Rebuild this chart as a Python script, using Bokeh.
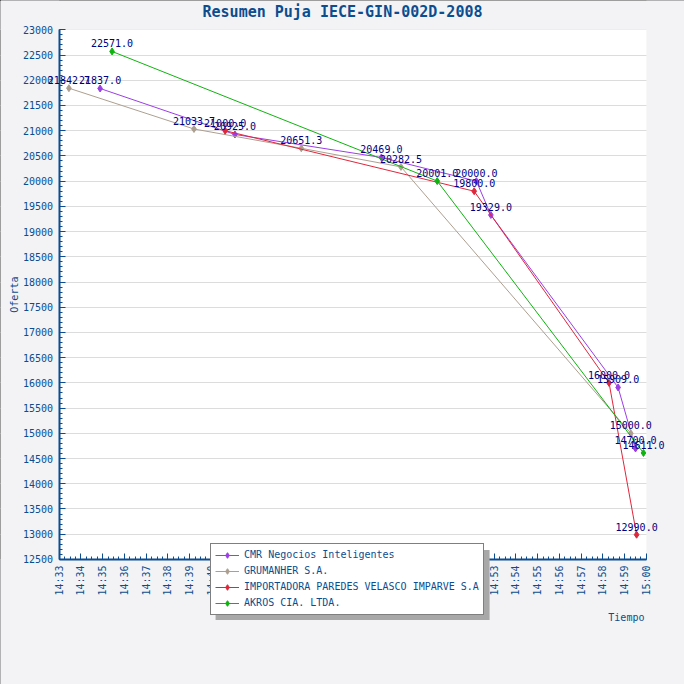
import math
from datetime import datetime
from bokeh.plotting import figure
from bokeh.models import (ColumnDataSource, FixedTicker, DatetimeTickFormatter, Legend,
                          LegendItem, Label, LabelSet, BoxAnnotation, Range1d)
from bokeh.core.properties import value
from bokeh.embed import file_html
from bokeh.resources import INLINE

# ---------------- data ----------------
title_text = "Resumen Puja IECE-GIN-002D-2008"
x_title = "Tiempo"
y_title = "Oferta"
day = "2008-01-01"

series_names = ["CMR Negocios Inteligentes", "GRUMANHER S.A.",
                "IMPORTADORA PAREDES VELASCO IMPARVE S.A", "AKROS CIA. LTDA."]

cmr_times = ["14:34:53", "14:41:05", "14:47:49", "14:52:11", "14:52:51", "14:58:42", "14:59:30"]
cmr_values = [21837.0, 20925.0, 20469.0, 20000.0, 19329.0, 15909.0, 14700.0]

gru_times = ["14:33:27", "14:39:12", "14:44:08", "14:48:43", "14:59:17"]
gru_values = [21842.7, 21033.7, 20651.3, 20282.5, 15000.0]

imp_times = ["14:40:38", "14:52:05", "14:58:17", "14:59:33"]
imp_values = [21000.0, 19800.0, 16000.0, 12990.0]

akr_times = ["14:35:26", "14:50:23", "14:59:52"]
akr_values = [22571.0, 20001.0, 14611.0]

tick_labels = ["14:%02d" % m for m in range(33, 60)] + ["15:00"]
y_min, y_max = 12500, 23000
y_ticks = list(range(y_min, y_max + 1, 500))
y_minor = list(range(y_min, y_max + 1, 100))

series_colors = ["#9b3ee6", "#ad9f90", "#e0263a", "#0fb30f"]

# ---------------- helpers ----------------
EPOCH = datetime(1970, 1, 1)


def ms(t):
    fmt = "%Y-%m-%d %H:%M:%S" if t.count(":") == 2 else "%Y-%m-%d %H:%M"
    return (datetime.strptime(day + " " + t, fmt) - EPOCH).total_seconds() * 1000.0


x_ticks = [ms(t) for t in tick_labels]
x_min, x_max = x_ticks[0], x_ticks[-1]
x_minor = [x_min + i * 15000.0 for i in range(0, 27 * 4 + 1)]

BLUE = "#0b4d8f"
NAVY = "#000080"
BG = "#f3f3f5"
FONT = "DejaVu Sans Mono"

W, H = 684, 684
S = W / 700.0
# plot band in canvas pixels (the frame covers the whole canvas)
BAND_L, BAND_R, BAND_T, BAND_B = 60 * S, 661 * S, 30 * S, 572 * S
x_ppu = (BAND_R - BAND_L) / (x_max - x_min)
y_ppu = (BAND_B - BAND_T) / (y_max - y_min)
x_start = x_min - BAND_L / x_ppu
x_end = x_max + (W - BAND_R) / x_ppu
y_end = y_max + BAND_T / y_ppu
y_start = y_min - (H - BAND_B) / y_ppu

p = figure(width=W, height=H, x_axis_type="datetime", output_backend="svg",
           toolbar_location=None,
           x_range=Range1d(x_start, x_end), y_range=Range1d(y_start, y_end),
           min_border_left=0, min_border_right=0, min_border_top=0, min_border_bottom=0,
           min_border=0,
           background_fill_color="white", border_fill_color=BG, outline_line_color=None)
p.title.visible = False
p.styles = {"outline": "2px solid black", "outline-offset": "-2px"}

p.xgrid.visible = False
p.ygrid.grid_line_color = "#dcdcdc"
p.ygrid.grid_line_width = 1

# grey surroundings of the white plot band (drawn over the grid's overhang)
for kw in (dict(right=x_min), dict(left=x_max), dict(bottom=y_max), dict(top=y_min)):
    p.add_layout(BoxAnnotation(fill_color=BG, fill_alpha=1, line_color=None,
                               level="underlay", **kw))

p.xaxis.ticker = FixedTicker(ticks=x_ticks, minor_ticks=x_minor)
p.xaxis.formatter = DatetimeTickFormatter(seconds="%H:%M", minsec="%H:%M", minutes="%H:%M",
                                          hourmin="%H:%M", hours="%H:%M", days="%H:%M")
p.xaxis.major_label_orientation = math.pi / 2
p.xaxis.fixed_location = y_min
p.xaxis.bounds = (x_min, x_max)
p.yaxis.ticker = FixedTicker(ticks=y_ticks, minor_ticks=y_minor)
p.yaxis.fixed_location = x_min
p.yaxis.bounds = (y_min, y_max)

for ax in (p.xaxis[0], p.yaxis[0]):
    ax.axis_line_color = BLUE
    ax.axis_line_width = 2
    ax.major_tick_line_color = BLUE
    ax.minor_tick_line_color = BLUE
    ax.major_tick_line_width = 1
    ax.minor_tick_line_width = 1
    ax.major_tick_in = 6
    ax.major_tick_out = 0
    ax.minor_tick_in = 3
    ax.minor_tick_out = 0
    ax.major_label_text_font = FONT
    ax.major_label_text_font_size = "10px"
    ax.major_label_text_color = BLUE
    ax.major_label_standoff = 6

all_times = [cmr_times, gru_times, imp_times, akr_times]
all_values = [cmr_values, gru_values, imp_values, akr_values]

items = []
for name, times, vals, col in zip(series_names, all_times, all_values, series_colors):
    src = ColumnDataSource(dict(x=[ms(t) for t in times], y=vals,
                                lab=["%.1f" % v for v in vals]))
    ln = p.line("x", "y", source=src, line_color=col, line_width=1)
    mk = p.scatter("x", "y", source=src, marker="diamond", size=7,
                   fill_color=col, line_color=col)
    items.append(LegendItem(label=name, renderers=[ln, mk]))
    p.add_layout(LabelSet(x="x", y="y", text="lab", source=src, text_align="center",
                          text_baseline="bottom", y_offset=4, text_font=value(FONT),
                          text_font_size=value("10px"), text_color=NAVY))

LEG_X, LEG_Y, LEG_W, LEG_H = 215 * S, H - 629 * S, 274, 70
# legend shadow
p.add_layout(BoxAnnotation(left=LEG_X + 5, right=LEG_X + LEG_W + 5,
                           bottom=LEG_Y - 5, top=LEG_Y + LEG_H - 5,
                           left_units="screen", right_units="screen",
                           bottom_units="screen", top_units="screen",
                           fill_color="#a8a8a8", fill_alpha=1, line_color=None))

legend = Legend(items=items, location=(LEG_X, LEG_Y), margin=0, padding=4, spacing=2,
                glyph_width=24, glyph_height=14, label_height=14, label_standoff=5,
                label_text_font=FONT, label_text_font_size="10px", label_text_color=BLUE,
                border_line_color="black", border_line_width=1,
                background_fill_color="white", background_fill_alpha=1)
p.add_layout(legend)

p.add_layout(Label(x=W / 2, y=H - 12 * S, x_units="screen", y_units="screen",
                   text=title_text, text_align="center", text_baseline="middle",
                   text_font=FONT, text_font_size="15px", text_font_style="bold",
                   text_color=BLUE))
p.add_layout(Label(x=659 * S, y=H - 631 * S, x_units="screen", y_units="screen",
                   text=x_title, text_align="right", text_baseline="middle",
                   text_font=FONT, text_font_size="10px", text_color=BLUE))
p.add_layout(Label(x=14 * S, y=H - 301 * S, x_units="screen", y_units="screen",
                   text=y_title, angle=math.pi / 2, text_align="center",
                   text_baseline="middle", text_font=FONT, text_font_size="10px",
                   text_color=BLUE))

open("out.html", "w").write(file_html(p, INLINE))
